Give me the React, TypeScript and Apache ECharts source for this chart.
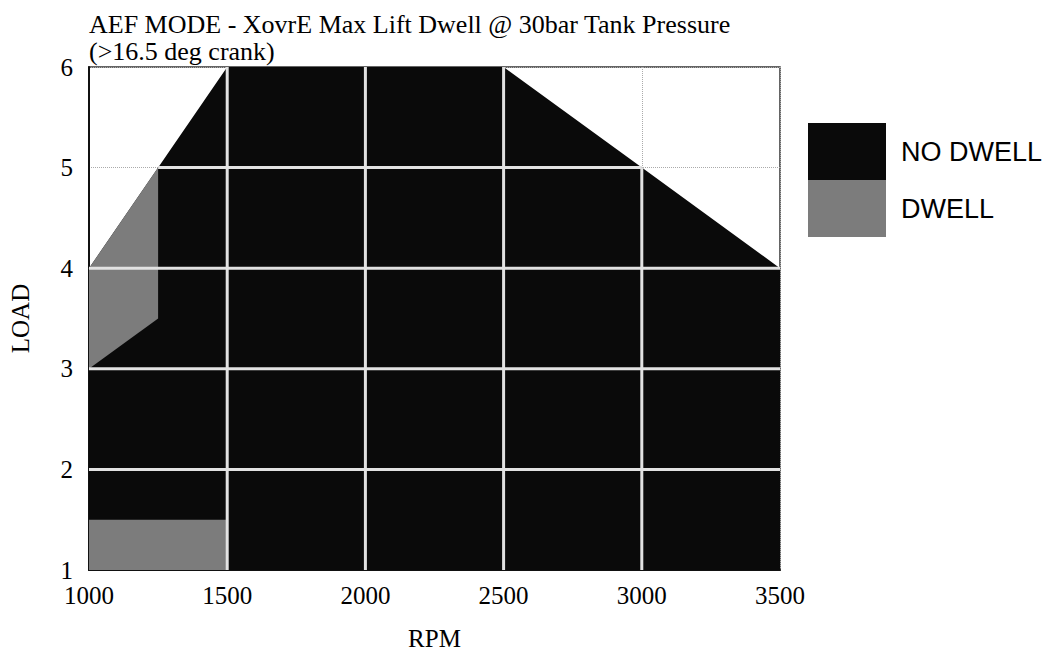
import React, { useEffect, useRef } from "react";
import * as echarts from "echarts";

const titleText = "AEF MODE - XovrE Max Lift Dwell @ 30bar Tank Pressure";
const subtitleText = "(>16.5 deg crank)";
const xAxisName = "RPM";
const yAxisName = "LOAD";
const rpmTicks = [1000, 1500, 2000, 2500, 3000, 3500];
const loadTicks = [1, 2, 3, 4, 5, 6];
const legendLabels = ["NO DWELL", "DWELL"];

// NO DWELL envelope (RPM, LOAD) corners
const noDwellRpm = [1000, 1500, 2500, 3000, 3500, 3500, 1000];
const noDwellLoad = [4, 6, 6, 5, 4, 1, 1];
// DWELL regions
const dwellLowRpm = [1000, 1500, 1500, 1000];
const dwellLowLoad = [1, 1, 1.5, 1.5];
const dwellLeftRpm = [1000, 1000, 1250, 1250];
const dwellLeftLoad = [3, 4, 5, 3.5];

const BLACK = "#0a0a0a";
const GRAY = "#7c7c7c";
const SERIF = "'Liberation Serif', 'Times New Roman', serif";
const SANS = "'Liberation Sans', Arial, sans-serif";

function polygonSeries(name: string, xs: number[], ys: number[], color: string, z: number) {
  const data = xs.map((x, i) => [x, ys[i]]);
  return {
    type: "custom",
    name,
    data,
    z,
    silent: true,
    itemStyle: { color },
    renderItem: (params: any, api: any) => {
      if (params.dataIndex !== 0) return null;
      const pts = data.map((d) => api.coord(d));
      return { type: "polygon", shape: { points: pts }, style: { fill: color } };
    },
  };
}

// range of the envelope along a vertical (axis 'x') or horizontal (axis 'y') line
function envelopeRange(axis: "x" | "y", v: number): [number, number] | null {
  const P = noDwellRpm.map((x, i) => [x, noDwellLoad[i]]);
  const a = axis === "x" ? 0 : 1;
  const b = 1 - a;
  const hits: number[] = [];
  for (let i = 0; i < P.length; i++) {
    const p = P[i];
    const q = P[(i + 1) % P.length];
    if ((p[a] - v) * (q[a] - v) <= 0) {
      if (p[a] === q[a]) {
        if (p[a] === v) hits.push(p[b], q[b]);
      } else {
        hits.push(p[b] + ((v - p[a]) * (q[b] - p[b])) / (q[a] - p[a]));
      }
    }
  }
  if (!hits.length) return null;
  return [Math.min(...hits), Math.max(...hits)];
}

export default function App() {
  const ref = useRef<HTMLDivElement>(null);
  useEffect(() => {
    document.body.style.margin = "0";
    const chart = echarts.init(ref.current!, undefined, { renderer: "svg" });
    const gridSeries = {
      type: "custom",
      name: "grid",
      data: [[rpmTicks[0], loadTicks[0]]],
      z: 10,
      silent: true,
      renderItem: (params: any, api: any) => {
        const children: any[] = [];
        const lineStyle = { stroke: "#e2e2e2", lineWidth: 3 };
        rpmTicks.slice(1, -1).forEach((v) => {
          const r = envelopeRange("x", v);
          if (!r) return;
          const p1 = api.coord([v, r[0]]);
          const p2 = api.coord([v, r[1]]);
          children.push({ type: "line", shape: { x1: p1[0], y1: p1[1], x2: p2[0], y2: p2[1] }, style: lineStyle });
        });
        loadTicks.slice(1, -1).forEach((v) => {
          const r = envelopeRange("y", v);
          if (!r) return;
          const p1 = api.coord([r[0], v]);
          const p2 = api.coord([r[1], v]);
          children.push({ type: "line", shape: { x1: p1[0], y1: p1[1], x2: p2[0], y2: p2[1] }, style: lineStyle });
        });
        return { type: "group", children };
      },
    };
    chart.setOption({
      animation: false,
      backgroundColor: "#ffffff",
      title: {
        text: titleText + "\n" + subtitleText,
        left: 84,
        top: 6,
        textStyle: { fontFamily: SERIF, fontSize: 26, fontWeight: "normal", color: "#000", lineHeight: 27 },
      },
      legend: {
        orient: "vertical",
        left: 803,
        top: 118,
        itemWidth: 78,
        itemHeight: 57,
        itemGap: 0,
        icon: "rect",
        data: legendLabels,
        itemStyle: { borderWidth: 0 },
        textStyle: { fontFamily: SANS, fontSize: 27, color: "#000", padding: [0, 0, 10, 10] },
        selectedMode: false,
      },
      grid: {
        left: 84,
        right: 269,
        top: 67,
        bottom: 71,
        show: true,
        borderColor: "#333",
        borderWidth: 1.5,
        backgroundColor: "#fff",
      },
      xAxis: {
        type: "value",
        min: rpmTicks[0],
        max: rpmTicks[rpmTicks.length - 1],
        interval: 500,
        name: xAxisName,
        nameLocation: "middle",
        nameGap: 56,
        nameTextStyle: { fontFamily: SERIF, fontSize: 25, color: "#000" },
        axisLine: { show: true, lineStyle: { color: "#111", width: 2 } },
        axisTick: { show: false },
        axisLabel: { fontFamily: SERIF, fontSize: 25, color: "#000", margin: 13, formatter: (v: number) => String(v) },
        splitLine: { show: true, lineStyle: { color: "#aaa", type: "dotted", width: 1 } },
      },
      yAxis: {
        type: "value",
        min: loadTicks[0],
        max: loadTicks[loadTicks.length - 1],
        interval: 1,
        name: yAxisName,
        nameLocation: "middle",
        nameGap: 56,
        nameTextStyle: { fontFamily: SERIF, fontSize: 25, color: "#000" },
        axisLine: { show: true, lineStyle: { color: "#111", width: 2 } },
        axisTick: { show: false },
        axisLabel: { fontFamily: SERIF, fontSize: 25, color: "#000", margin: 16 },
        splitLine: { show: true, lineStyle: { color: "#aaa", type: "dotted", width: 1 } },
      },
      series: [
        polygonSeries(legendLabels[0], noDwellRpm, noDwellLoad, BLACK, 2),
        polygonSeries(legendLabels[1], dwellLowRpm, dwellLowLoad, GRAY, 3),
        polygonSeries(legendLabels[1], dwellLeftRpm, dwellLeftLoad, GRAY, 3),
        gridSeries,
      ],
    });
    return () => chart.dispose();
  }, []);
  return <div ref={ref} style={{ width: 1049, height: 656 }} />;
}
